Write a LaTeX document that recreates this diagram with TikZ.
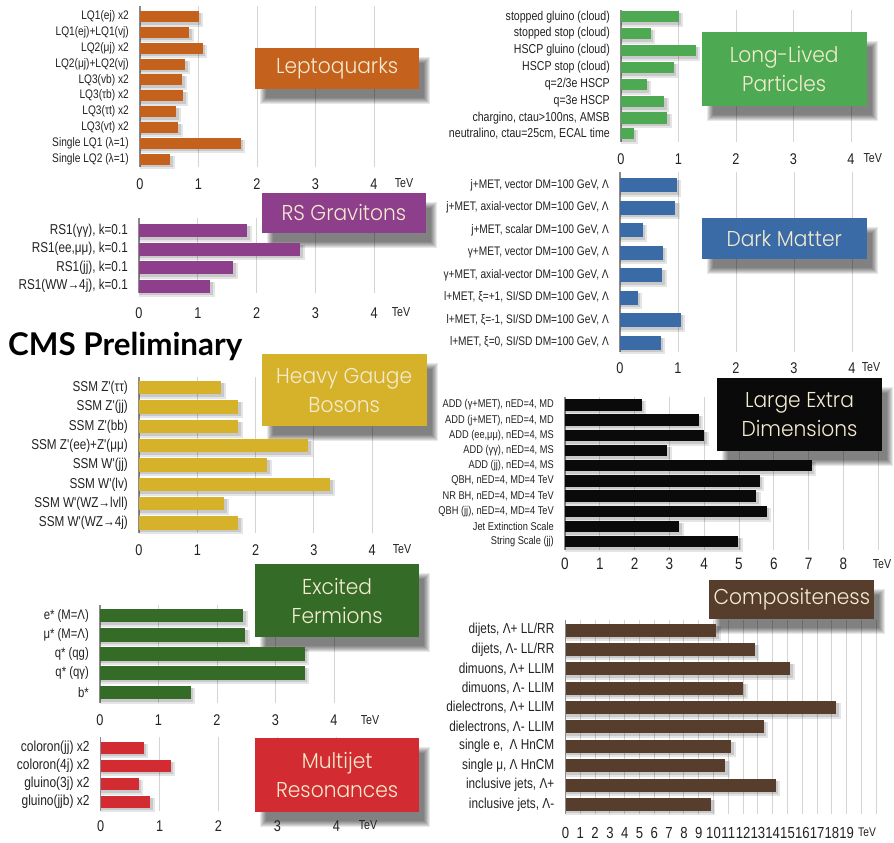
\documentclass[tikz,border=0pt]{standalone}
\usepackage{fontspec}
\usepackage{graphicx}
\setmainfont{Liberation Sans}
\newfontfamily\labf[FakeStretch=0.82]{Liberation Sans}
\newfontfamily\ttlf[FakeStretch=0.94]{Poppins Light}
\newfontfamily\cmsf{Lato}
\usetikzlibrary{calc}

\definecolor{lqc}{HTML}{C4611C}
\definecolor{llpc}{HTML}{4DAA52}
\definecolor{rsc}{HTML}{8E3F8C}
\definecolor{dmc}{HTML}{3A6BA6}
\definecolor{hgbc}{HTML}{D6B22B}
\definecolor{ledc}{HTML}{0A0A0A}
\definecolor{efc}{HTML}{336B27}
\definecolor{compc}{HTML}{573E2C}
\definecolor{mjc}{HTML}{D22B31}
\definecolor{ttl}{HTML}{F4EBD0}
\definecolor{gridc}{HTML}{D4D4D4}
\definecolor{axisc}{HTML}{8A8A8A}
\definecolor{labc}{HTML}{222222}

\tikzset{
  gridl/.style={draw=gridc, line width=0.9pt},
  axisl/.style={draw=axisc, line width=1.2pt},
}

\newcommand{\setpanel}[5]{\def\px{#1}\def\ps{#2}\def\bh{#3}\def\bcol{#4}\def\lsize{#5}}
\newcommand{\brow}[4]{%
  \fill[black,opacity=0.10] ({\px},{#3-\bh/2+2}) rectangle ({\px+#2*\ps+4.5},{#3+\bh/2+4.5});
  \fill[black,opacity=0.12] ({\px},{#3-\bh/2+2}) rectangle ({\px+#2*\ps+2.5},{#3+\bh/2+2.5});
  \fill[\bcol] ({\px},{#3-\bh/2}) rectangle ({\px+#2*\ps},{#3+\bh/2});
  \node[anchor=east,inner sep=0pt,text=labc,font=\labf\fontsize{\lsize}{\lsize}\selectfont] (#1) at ({\px-11},#3) {#4};
}
\newcommand{\axisgrid}[5]{%
  \foreach \g in {1,...,#3} \draw[gridl] ({#1+\g*#2},#4) -- ({#1+\g*#2},#5);
  \draw[axisl] (#1,#4) -- (#1,#5);
}
\newcommand{\tickrow}[6]{%
  \foreach \g in {0,...,#4} \node[text=labc,font=\labf\fontsize{#6}{#6}\selectfont, inner sep=0pt] (#1-\g) at ({#2+\g*#3},#5) {\g};
}
\newcommand{\titlebox}[7]{%
  \foreach \k in {0,...,6} \fill[black,opacity=0.09] ({#2+11-\k},{#3+15-\k}) rectangle ({#4+5+\k},{#5+9+\k});
  \node[fill=#6, text=ttl, inner sep=0pt, align=center,
        minimum width={(#4-#2)*1pt}, minimum height={(#5-#3)*1pt},
        font=\ttlf\fontsize{21.5}{29}\selectfont] (#1) at ({(#2+#4)/2},{(#3+#5)/2}) {#7};
}

\begin{document}
\begin{tikzpicture}[x=1pt,y=-1pt]
\useasboundingbox[fill=white] (0,0) rectangle (894,843);

% ---------------- grids ----------------
\axisgrid{140}{58.5}{4}{6}{167}
\axisgrid{621}{57.5}{4}{10}{142}
\axisgrid{139}{58.8}{4}{218}{293}
\axisgrid{620}{58}{4}{172}{352}
\axisgrid{139}{58.3}{4}{377}{533}
\axisgrid{565}{34.8}{9}{397}{550}
\axisgrid{100}{58.5}{4}{605}{703}
\axisgrid{565.5}{14.8}{21}{620}{814}
\axisgrid{100.7}{58.9}{4}{737}{811}

% ---------------- title boxes ----------------
\titlebox{tlq}{255}{48.3}{419.3}{89}{lqc}{Leptoquarks}
\titlebox{tllp}{701.7}{32}{866.7}{106}{llpc}{Long-Lived\\Particles}
\titlebox{trs}{261.7}{193}{426}{233}{rsc}{RS Gravitons}
\titlebox{tdm}{701.7}{217.7}{866.7}{259.3}{dmc}{Dark Matter}
\titlebox{thgb}{261.7}{354}{426.7}{426}{hgbc}{Heavy Gauge\\Bosons}
\titlebox{tled}{717.3}{378.3}{881.7}{451}{ledc}{Large Extra\\Dimensions}
\titlebox{tef}{255}{564.3}{419.3}{637.3}{efc}{Excited\\Fermions}
\titlebox{tcomp}{709.3}{580}{874.3}{619.3}{compc}{Compositeness}
\titlebox{tmj}{255}{738.3}{419.3}{812.3}{mjc}{Multijet\\Resonances}

% ---------------- Leptoquarks ----------------
\setpanel{140}{58.5}{11}{lqc}{12.4}
\brow{lq1}{1.0}{16.7}{LQ1(ej) x2}
\brow{lq2}{0.84}{32.5}{LQ1(ej)+LQ1(vj)}
\brow{lq3}{1.07}{48.3}{LQ2(μj) x2}
\brow{lq4}{0.77}{64.1}{LQ2(μj)+LQ2(vj)}
\brow{lq5}{0.72}{79.9}{LQ3(vb) x2}
\brow{lq6}{0.74}{95.7}{LQ3(τb) x2}
\brow{lq7}{0.62}{111.5}{LQ3(τt) x2}
\brow{lq8}{0.65}{127.3}{LQ3(vt) x2}
\brow{lq9}{1.72}{143.2}{Single LQ1 (λ=1)}
\brow{lq10}{0.52}{159}{Single LQ2 (λ=1)}
\tickrow{lqt}{140}{58.5}{4}{184}{15.5}
\node[text=labc,font=\labf\fontsize{13}{13}\selectfont, inner sep=0pt] (lqtev) at (404,183) {TeV};

% ---------------- Long-lived ----------------
\setpanel{621}{57.5}{11.5}{llpc}{12.9}
\brow{llp1}{1.0}{16.7}{stopped gluino (cloud)}
\brow{llp2}{0.52}{33.3}{stopped stop (cloud)}
\brow{llp3}{1.3}{50.5}{HSCP gluino (cloud)}
\brow{llp4}{0.92}{67.5}{HSCP stop (cloud)}
\brow{llp5}{0.45}{84.5}{q=2/3e HSCP}
\brow{llp6}{0.75}{101.5}{q=3e HSCP}
\brow{llp7}{0.8}{118}{chargino, ctau>100ns, AMSB}
\brow{llp8}{0.22}{133.5}{neutralino, ctau=25cm, ECAL time}
\tickrow{llpt}{621}{57.5}{4}{159}{15.5}
\node[text=labc,font=\labf\fontsize{13}{13}\selectfont, inner sep=0pt] (llptev) at (872.7,158.5) {TeV};

% ---------------- RS Gravitons ----------------
\setpanel{139}{58.8}{13}{rsc}{14.3}
\brow{rs1}{1.84}{230.5}{RS1(γγ), k=0.1}
\brow{rs2}{2.74}{249}{RS1(ee,μμ), k=0.1}
\brow{rs3}{1.6}{267.5}{RS1(jj), k=0.1}
\brow{rs4}{1.21}{286}{RS1(WW→4j), k=0.1}
\tickrow{rst}{139}{58.8}{4}{313}{15.5}
\node[text=labc,font=\labf\fontsize{13}{13}\selectfont, inner sep=0pt] (rstev) at (401,312) {TeV};

% ---------------- CMS Preliminary ----------------
\node[anchor=south west, inner sep=0pt] (cms) at (8,361) {\resizebox{234pt}{!}{\cmsf\bfseries CMS Preliminary}};

% ---------------- Dark Matter ----------------
\setpanel{620}{58}{14}{dmc}{12.4}
\brow{dm1}{0.98}{185}{j+MET, vector DM=100 GeV, Λ}
\brow{dm2}{0.95}{207.5}{j+MET, axial-vector DM=100 GeV, Λ}
\brow{dm3}{0.39}{230}{j+MET, scalar DM=100 GeV, Λ}
\brow{dm4}{0.74}{252.5}{γ+MET, vector DM=100 GeV, Λ}
\brow{dm5}{0.73}{275}{γ+MET, axial-vector DM=100 GeV, Λ}
\brow{dm6}{0.31}{297.5}{l+MET, ξ=+1, SI/SD DM=100 GeV, Λ}
\brow{dm7}{1.05}{320}{l+MET, ξ=-1, SI/SD DM=100 GeV, Λ}
\brow{dm8}{0.70}{342.5}{l+MET, ξ=0, SI/SD DM=100 GeV, Λ}
\tickrow{dmt}{620}{58}{4}{368}{15.5}
\node[text=labc,font=\labf\fontsize{13}{13}\selectfont, inner sep=0pt] (dmtev) at (871,367) {TeV};

% ---------------- Heavy Gauge Bosons ----------------
\setpanel{139}{58.3}{13.5}{hgbc}{14.3}
\brow{hgb1}{1.41}{387.7}{SSM Z'(ττ)}
\brow{hgb2}{1.70}{407}{SSM Z'(jj)}
\brow{hgb3}{1.70}{426.3}{SSM Z'(bb)}
\brow{hgb4}{2.90}{445.7}{SSM Z'(ee)+Z'(μμ)}
\brow{hgb5}{2.20}{465}{SSM W'(jj)}
\brow{hgb6}{3.28}{484.3}{SSM W'(lv)}
\brow{hgb7}{1.46}{503.7}{SSM W'(WZ→lvll)}
\brow{hgb8}{1.70}{523}{SSM W'(WZ→4j)}
\tickrow{hgbt}{139}{58.3}{4}{550}{15.5}
\node[text=labc,font=\labf\fontsize{13}{13}\selectfont, inner sep=0pt] (hgbtev) at (402,549) {TeV};

% ---------------- Large Extra Dimensions ----------------
\setpanel{565}{34.8}{11.5}{ledc}{11.3}
\brow{led1}{2.2}{405}{ADD (γ+MET), nED=4, MD}
\brow{led2}{3.85}{420.2}{ADD (j+MET), nED=4, MD}
\brow{led3}{4.0}{435.4}{ADD (ee,μμ), nED=4, MS}
\brow{led4}{2.94}{450.5}{ADD (γγ), nED=4, MS}
\brow{led5}{7.09}{465.7}{ADD (jj), nED=4, MS}
\brow{led6}{5.6}{480.9}{QBH, nED=4, MD=4 TeV}
\brow{led7}{5.5}{496.1}{NR BH, nED=4, MD=4 TeV}
\brow{led8}{5.8}{511.3}{QBH (jj), nED=4, MD=4 TeV}
\brow{led9}{3.28}{526.4}{Jet Extinction Scale}
\brow{led10}{4.98}{541.6}{String Scale (jj)}
\tickrow{ledt}{565}{34.8}{8}{564}{16.5}
\node[text=labc,font=\labf\fontsize{13}{13}\selectfont, inner sep=0pt] (ledtev) at (882,564) {TeV};

% ---------------- Excited Fermions ----------------
\setpanel{100}{58.5}{13.5}{efc}{13.8}
\brow{ef1}{2.45}{615.7}{e* (M=Λ)}
\brow{ef2}{2.48}{634.9}{μ* (M=Λ)}
\brow{ef3}{3.5}{654}{q* (qg)}
\brow{ef4}{3.5}{673.2}{q* (qγ)}
\brow{ef5}{1.55}{692.3}{b*}
\tickrow{eft}{100}{58.5}{4}{720}{15.5}
\node[text=labc,font=\labf\fontsize{13}{13}\selectfont, inner sep=0pt] (eftev) at (370,720) {TeV};

% ---------------- Compositeness ----------------
\setpanel{565.5}{14.8}{13}{compc}{14.4}
\brow{cp1}{10.2}{630}{dijets, Λ+ LL/RR}
\brow{cp2}{12.8}{649.4}{dijets, Λ- LL/RR}
\brow{cp3}{15.2}{668.7}{dimuons, Λ+ LLIM}
\brow{cp4}{12.0}{688.1}{dimuons, Λ- LLIM}
\brow{cp5}{18.3}{707.5}{dielectrons, Λ+ LLIM}
\brow{cp6}{13.4}{726.8}{dielectrons, Λ- LLIM}
\brow{cp7}{11.2}{746.2}{single e,\ \ Λ HnCM}
\brow{cp8}{10.8}{765.6}{single μ, Λ HnCM}
\brow{cp9}{14.2}{785}{inclusive jets, Λ+}
\brow{cp10}{9.8}{804.3}{inclusive jets, Λ-}
\tickrow{cpt}{565.5}{14.8}{19}{833}{16}
\node[text=labc,font=\labf\fontsize{12.5}{12.5}\selectfont, inner sep=0pt] (cptev) at (867,832) {TeV};

% ---------------- Multijet ----------------
\setpanel{100.7}{58.9}{12}{mjc}{14.6}
\brow{mj1}{0.73}{747.7}{coloron(jj) x2}
\brow{mj2}{1.19}{765.7}{coloron(4j) x2}
\brow{mj3}{0.65}{784}{gluino(3j) x2}
\brow{mj4}{0.84}{801.7}{gluino(jjb) x2}
\tickrow{mjt}{100.7}{58.9}{4}{826}{15.5}
\node[text=labc,font=\labf\fontsize{13}{13}\selectfont, inner sep=0pt] (mjtev) at (368,825.5) {TeV};

\end{tikzpicture}
\end{document}
